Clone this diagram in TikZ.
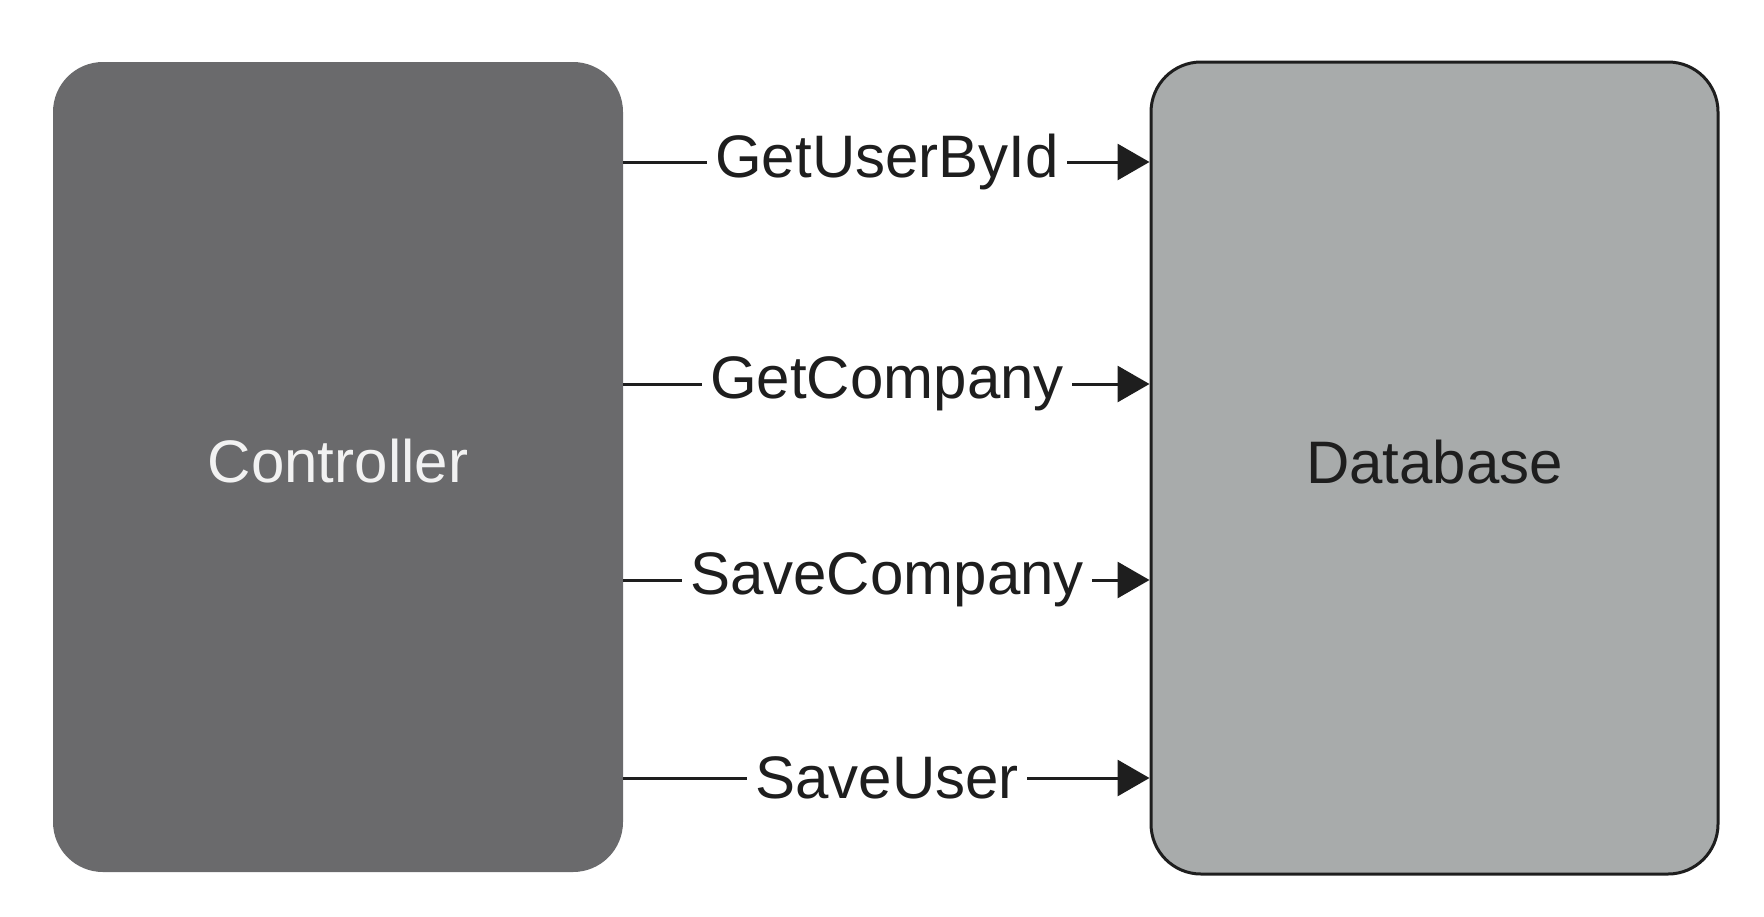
\documentclass[tikz,border=0pt]{standalone}
\usepackage{fontspec}
\setmainfont{Liberation Sans}
\usetikzlibrary{arrows.meta}
\definecolor{ctrlgray}{HTML}{6A6A6C}
\definecolor{dbgray}{HTML}{A8ABAB}
\definecolor{ink}{HTML}{1E1E1E}
\definecolor{ctrltext}{HTML}{F2F2F2}
\begin{document}
\begin{tikzpicture}[x=0.5pt,y=-0.5pt,
  box/.style={rectangle, rounded corners=25pt, inner sep=0pt, text depth=6pt, font=\fontsize{30}{36}\selectfont},
  lab/.style={fill=white, inner xsep=4pt, inner ysep=0pt, text=ink, font=\fontsize{30}{36}\selectfont},
  conn/.style={draw=ink, line width=1.5pt},
  arr/.style={conn, -{Triangle[length=16pt,width=18pt]}}]
\useasboundingbox (0,0) rectangle (1764,916);
\node[box, fill=ctrlgray, text=ctrltext, minimum width=285pt, minimum height=405pt] (ctrl) at (338,467) {Controller};
\node[box, fill=dbgray, draw=ink, line width=1.5pt, text=ink, minimum width=283.5pt, minimum height=406pt] (db) at (1434.5,468) {Database};
\node[lab] (l1) at (887,162) {GetUserById};
\node[lab] (l2) at (887,384) {GetCompany};
\node[lab] (l3) at (887,580) {SaveCompany};
\node[lab] (l4) at (887,778) {SaveUser};
\foreach \l in {l1,l2,l3,l4}{
  \draw[conn] (ctrl.east |- \l) -- (\l);
  \draw[arr] (\l) -- (db.west |- \l);
}
\end{tikzpicture}
\end{document}
